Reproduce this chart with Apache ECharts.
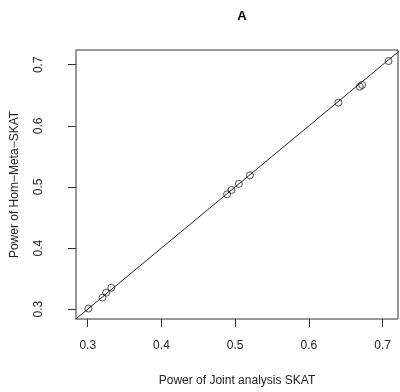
<!DOCTYPE html>
<html>
<head>
<meta charset="utf-8">
<script src="https://cdn.jsdelivr.net/npm/echarts@6/dist/echarts.min.js"></script>
<style>
  html, body { margin: 0; padding: 0; background: #fff; }
  #chart { width: 400px; height: 392px; }
</style>
</head>
<body>
<div id="chart"></div>
<script>
// power values
const jointPower = [0.301, 0.320, 0.325, 0.332, 0.489, 0.495, 0.505, 0.520, 0.640, 0.669, 0.672, 0.708]
const metaPower = [0.301, 0.319, 0.327, 0.335, 0.488, 0.495, 0.505, 0.519, 0.638, 0.664, 0.667, 0.706]
const tickValues = [0.3, 0.4, 0.5, 0.6, 0.7]
const diagonal = [[0.2, 0.2], [0.8, 0.8]]

const points = jointPower.map((x, i) => [x, metaPower[i]])
const font = 'Liberation Sans, Arial, sans-serif'

const option = {
  animation: false,
  backgroundColor: '#fff',
  textStyle: { fontFamily: font },
  title: {
    text: 'A',
    left: 237,
    top: 5,
    textAlign: 'center',
    textStyle: { fontSize: 13, fontWeight: 'bold', color: '#000', fontFamily: font }
  },
  grid: {
    left: 76,
    right: 2,
    top: 50,
    bottom: 68,
    show: true,
    borderColor: '#333',
    borderWidth: 1
  },
  xAxis: {
    type: 'value',
    min: 0.2841,
    max: 0.7208,
    name: 'Power of Joint analysis SKAT',
    nameLocation: 'middle',
    nameGap: 56,
    nameTextStyle: { fontSize: 12, color: '#222', fontFamily: font },
    splitLine: { show: false },
    axisLine: { show: false },
    axisTick: { show: true, inside: false, length: 8, customValues: tickValues, lineStyle: { color: '#333' } },
    axisLabel: { customValues: tickValues, margin: 21, fontSize: 12, color: '#222', fontFamily: font, formatter: v => v.toFixed(1) }
  },
  yAxis: {
    type: 'value',
    min: 0.2839,
    max: 0.7241,
    name: 'Power of Hom\u2212Meta\u2212SKAT',
    nameLocation: 'middle',
    nameRotate: 90,
    nameGap: 55,
    nameTextStyle: { fontSize: 12, color: '#222', fontFamily: font },
    splitLine: { show: false },
    axisLine: { show: false },
    axisTick: { show: true, inside: false, length: 8, customValues: tickValues, lineStyle: { color: '#333' } },
    axisLabel: { customValues: tickValues, rotate: 90, margin: 31, fontSize: 12, color: '#222', fontFamily: font, formatter: v => v.toFixed(1) }
  },
  series: [
    {
      type: 'line',
      data: diagonal,
      symbol: 'none',
      clip: true,
      silent: true,
      lineStyle: { color: '#222', width: 1 }
    },
    {
      type: 'scatter',
      data: points,
      symbol: 'circle',
      symbolSize: 7,
      itemStyle: { color: 'transparent', borderColor: '#222', borderWidth: 1 }
    }
  ]
}

const chart = echarts.init(document.getElementById('chart'))
chart.setOption(option)
</script>
</body>
</html>
